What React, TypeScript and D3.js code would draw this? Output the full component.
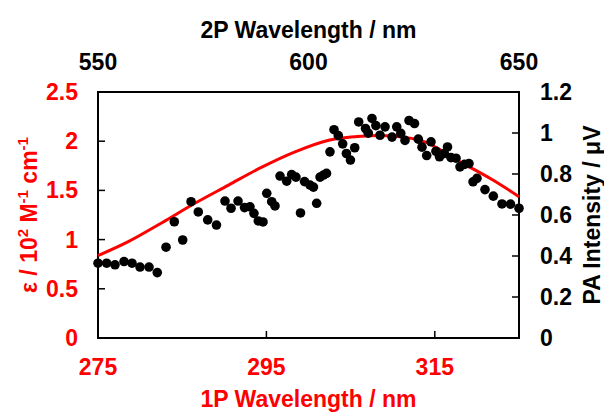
import React, { useEffect, useRef } from "react";
import * as d3 from "d3";

// 1P absorption (ε / 10^2 M^-1 cm^-1) vs 1P wavelength
const absWavelength = [275, 278.6, 282.6, 286.5, 290.5, 294.4, 298.4, 302.4, 306.3, 308.3, 310.3, 313.8, 318, 321.9, 325];
const absEpsilon = [0.837, 0.979, 1.172, 1.369, 1.554, 1.734, 1.892, 2.01, 2.051, 2.058, 2.051, 1.993, 1.79, 1.605, 1.436];

// PA intensity (µV) vs 1P-equivalent wavelength
const paWavelength = [275, 276.03, 277.02, 278.09, 279.04, 279.99, 281.06, 282.04, 283.08, 284.06, 285.06, 286.05, 286.91, 288.03, 289.07, 290.08, 290.8, 291.63, 292.4, 293.05, 293.52, 294.04, 294.6, 295.04, 295.63, 296.02, 296.62, 297.41, 298.0, 298.51, 299.05, 299.53, 300.18, 300.59, 300.97, 301.37, 301.78, 302.14, 302.55, 303.03, 303.54, 304.06, 304.5, 304.98, 305.49, 305.96, 306.77, 307.1, 307.54, 308.0, 308.49, 309.09, 309.92, 310.48, 310.96, 311.46, 311.94, 312.59, 313.04, 313.48, 314.04, 314.55, 315.14, 315.56, 316.13, 316.51, 316.92, 317.52, 317.99, 318.53, 319.06, 319.54, 320.01, 320.96, 321.95, 322.98, 323.99, 325.0];
const paIntensity = [0.365, 0.365, 0.357, 0.373, 0.365, 0.346, 0.346, 0.319, 0.443, 0.567, 0.478, 0.665, 0.615, 0.576, 0.551, 0.668, 0.633, 0.668, 0.636, 0.64, 0.608, 0.571, 0.566, 0.706, 0.665, 0.644, 0.79, 0.765, 0.797, 0.785, 0.61, 0.763, 0.746, 0.736, 0.657, 0.785, 0.795, 0.803, 0.908, 1.016, 0.987, 0.947, 0.9, 0.868, 0.928, 1.054, 1.022, 0.999, 1.071, 1.036, 0.989, 1.03, 0.98, 1.03, 0.998, 0.964, 1.061, 1.046, 0.97, 0.931, 0.89, 0.957, 0.911, 0.884, 0.9, 0.932, 0.88, 0.877, 0.835, 0.847, 0.851, 0.762, 0.779, 0.724, 0.692, 0.654, 0.653, 0.633];

const bottomTicks = [275, 295, 315];
const topTicks = [550, 600, 650];
const leftTicks = [0, 0.5, 1, 1.5, 2, 2.5];
const rightTicks = [0, 0.2, 0.4, 0.6, 0.8, 1, 1.2];

const W = 604;
const H = 413;
const M = { left: 98, right: 519, top: 92, bottom: 338 };
const FONT = "'Liberation Sans', Arial, sans-serif";
const RED = "#ff0000";
const FS = 23;

export default function App() {
  const ref = useRef<SVGSVGElement | null>(null);

  useEffect(() => {
    const svg = d3.select(ref.current);
    svg.selectAll("*").remove();

    const x = d3.scaleLinear().domain([275, 325]).range([M.left, M.right]);
    const x2 = d3.scaleLinear().domain([550, 650]).range([M.left, M.right]);
    const yL = d3.scaleLinear().domain([0, 2.5]).range([M.bottom, M.top]);
    const yR = d3.scaleLinear().domain([0, 1.2]).range([M.bottom, M.top]);

    const g = svg.append("g");

    // frame
    g.append("rect")
      .attr("x", M.left)
      .attr("y", M.top)
      .attr("width", M.right - M.left)
      .attr("height", M.bottom - M.top)
      .attr("fill", "none")
      .attr("stroke", "#000")
      .attr("stroke-width", 2);

    const tl = 7;
    leftTicks.forEach((t) => {
      g.append("line").attr("x1", M.left).attr("x2", M.left + tl).attr("y1", yL(t)).attr("y2", yL(t)).attr("stroke", "#000").attr("stroke-width", 1.5);
      g.append("text").attr("x", 78).attr("y", yL(t) + 8).attr("text-anchor", "end").attr("fill", RED)
        .attr("font-family", FONT).attr("font-weight", "bold").attr("font-size", FS).text(String(t));
    });
    rightTicks.forEach((t) => {
      g.append("line").attr("x1", M.right - tl).attr("x2", M.right).attr("y1", yR(t)).attr("y2", yR(t)).attr("stroke", "#000").attr("stroke-width", 1.5);
      g.append("text").attr("x", 540).attr("y", yR(t) + 8).attr("text-anchor", "start").attr("fill", "#000")
        .attr("font-family", FONT).attr("font-weight", "bold").attr("font-size", FS).text(String(t));
    });
    bottomTicks.forEach((t) => {
      g.append("line").attr("x1", x(t)).attr("x2", x(t)).attr("y1", M.bottom).attr("y2", M.bottom - tl).attr("stroke", "#000").attr("stroke-width", 1.5);
      g.append("text").attr("x", x(t)).attr("y", 375).attr("text-anchor", "middle").attr("fill", RED)
        .attr("font-family", FONT).attr("font-weight", "bold").attr("font-size", FS).text(String(t));
    });
    topTicks.forEach((t) => {
      g.append("text").attr("x", x2(t)).attr("y", 70).attr("text-anchor", "middle").attr("fill", "#000")
        .attr("font-family", FONT).attr("font-weight", "bold").attr("font-size", FS).text(String(t));
    });

    // titles
    g.append("text").attr("x", (M.left + M.right) / 2).attr("y", 38).attr("text-anchor", "middle")
      .attr("font-family", FONT).attr("font-weight", "bold").attr("font-size", FS).attr("fill", "#000")
      .text("2P Wavelength / nm");
    g.append("text").attr("x", (M.left + M.right) / 2).attr("y", 407).attr("text-anchor", "middle")
      .attr("font-family", FONT).attr("font-weight", "bold").attr("font-size", FS).attr("fill", RED)
      .text("1P Wavelength / nm");

    const lt = g.append("text")
      .attr("transform", `translate(37,${215}) rotate(-90)`)
      .attr("text-anchor", "middle")
      .attr("font-family", FONT).attr("font-weight", "bold").attr("font-size", FS).attr("fill", RED);
    lt.append("tspan").text("ε / 10");
    lt.append("tspan").attr("dy", -9).attr("font-size", 15).text("2");
    lt.append("tspan").attr("dy", 9).text(" M");
    lt.append("tspan").attr("dy", -9).attr("font-size", 15).text("-1");
    lt.append("tspan").attr("dy", 9).text(" cm");
    lt.append("tspan").attr("dy", -9).attr("font-size", 15).text("-1");

    g.append("text")
      .attr("transform", `translate(600,${215}) rotate(-90)`)
      .attr("text-anchor", "middle")
      .attr("font-family", FONT).attr("font-weight", "bold").attr("font-size", FS).attr("fill", "#000")
      .text("PA Intensity / μV");

    // red absorption line
    const line = d3.line<number>()
      .x((_, i) => x(absWavelength[i]))
      .y((d) => yL(d))
      .curve(d3.curveMonotoneX);
    g.append("path").attr("d", line(absEpsilon) || "").attr("fill", "none").attr("stroke", RED).attr("stroke-width", 3);

    // PA points
    g.append("g").selectAll("circle").data(paIntensity).join("circle")
      .attr("cx", (_, i) => x(paWavelength[i]))
      .attr("cy", (d) => yR(d))
      .attr("r", 4.8)
      .attr("fill", "#000");
  }, []);

  return (
    <svg ref={ref} width={W} height={H} style={{ position: "absolute", left: 0, top: 0, background: "#fff" }} />
  );
}
